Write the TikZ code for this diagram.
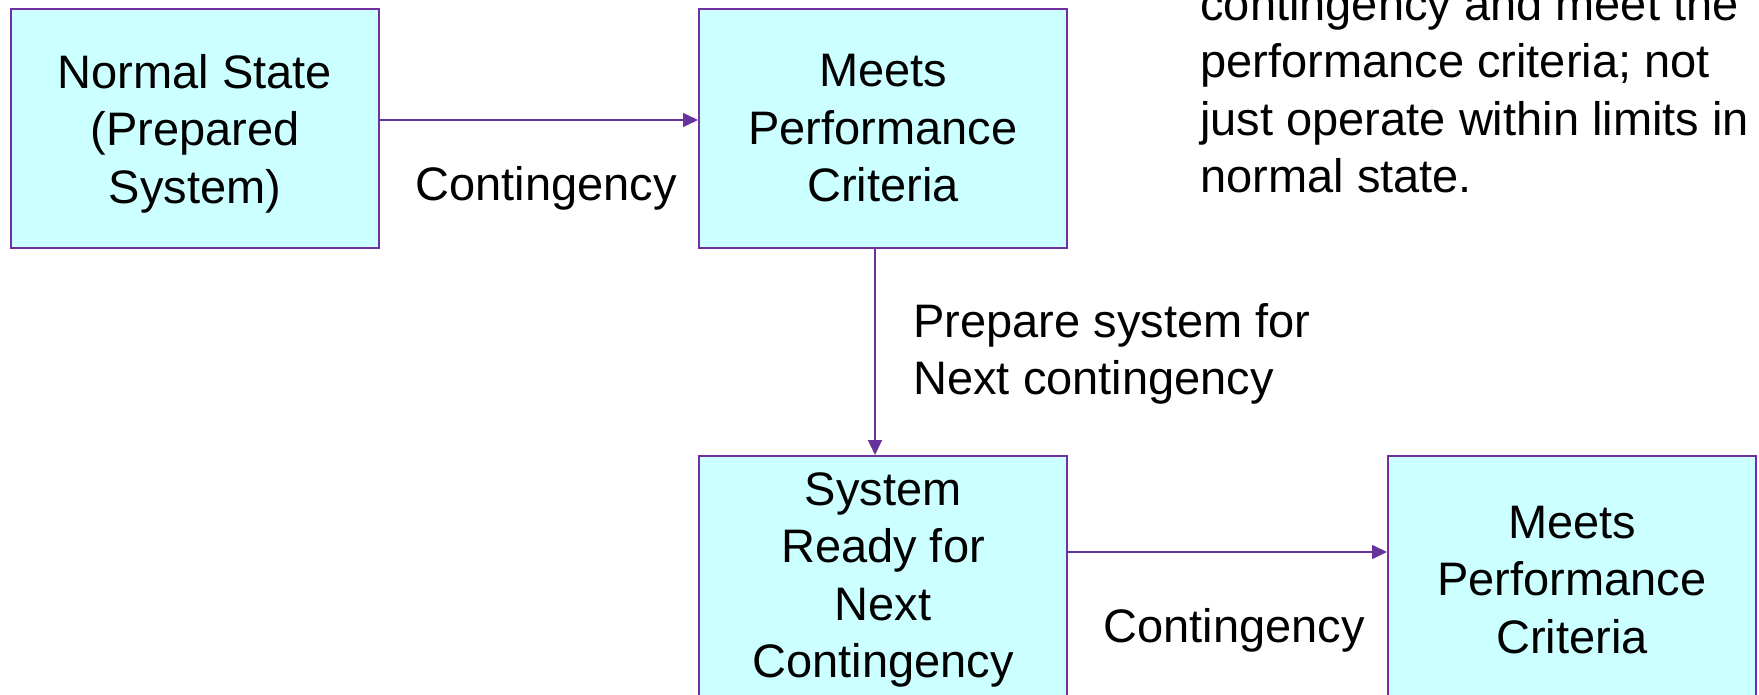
\documentclass[tikz,border=0pt]{standalone}
\usepackage{fontspec}
\setmainfont{Liberation Sans}
\usetikzlibrary{arrows.meta}
\definecolor{boxfill}{HTML}{CCFFFF}
\definecolor{boxdraw}{HTML}{7030A0}
\definecolor{arrowcol}{HTML}{66339A}
\begin{document}
\begin{tikzpicture}[x=0.5pt,y=-0.5pt,
  statebox/.style={draw=boxdraw, line width=1pt, fill=boxfill, minimum width=184pt,
    minimum height=119.5pt, align=center, inner sep=0pt,
    font=\fontsize{23.5}{28.75}\selectfont},
  lowbox/.style={statebox, minimum height=124pt},
  link/.style={draw=arrowcol, line width=0.8pt, -{Triangle[length=7.5pt,width=7pt]}},
  lbl/.style={inner sep=0pt, align=left, font=\fontsize{23.5}{28.75}\selectfont}]
\useasboundingbox (0,0) rectangle (1759,695);
\clip (0,0) rectangle (1759,695);
\node[statebox, text depth=0pt] (b1) at (195,128.5) {Normal State\\(Prepared\\System)};
\node[statebox] (b2) at (883,128.5) {Meets\\Performance\\Criteria};
\node[lowbox] (b3) at (883,580) {System\\Ready for\\Next\\Contingency};
\node[lowbox] (b4) at (1572,580) {Meets\\Performance\\Criteria};
\draw[link] ([yshift=4.25pt]b1.east) -- ([yshift=4.25pt]b2.west);
\draw[link] ([xshift=-4pt]b2.south) -- ([xshift=-4pt]b3.north);
\draw[link] ([yshift=14pt]b3.east) -- ([yshift=14pt]b4.west);
\node[lbl, anchor=base west] (c1) at (415,200) {Contingency};
\node[lbl, anchor=base west] (c2) at (1103,642) {Contingency};
\node[lbl, anchor=north west] (prep) at (913,303) {Prepare system for\\Next contingency};
\node[lbl, anchor=north west] (note) at (1200,-14) {contingency and meet the\\performance criteria; not\\just operate within limits in\\normal state.};
\end{tikzpicture}
\end{document}
